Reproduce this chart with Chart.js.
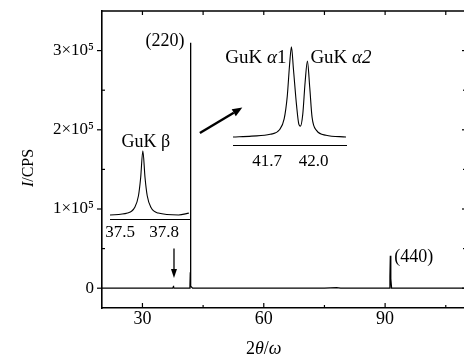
<!DOCTYPE html>
<html>
<head>
<meta charset="utf-8">
<script src="https://cdn.jsdelivr.net/npm/chart.js@4.4.0/dist/chart.umd.min.js"></script>
<style>
  html, body { margin: 0; padding: 0; background: #fff; overflow: hidden; }
  #wrap { position: relative; width: 470px; height: 361px; }
  #wrap canvas { position: absolute; }
  #main { left: 0; top: 0; }
  #betaInset { left: 100px; top: 120px; }
  #alphaInset { left: 223px; top: 30px; }
</style>
</head>
<body>
<div id="wrap">
  <canvas id="main" width="470" height="361"></canvas>
  <canvas id="betaInset" width="100" height="140"></canvas>
  <canvas id="alphaInset" width="163" height="145"></canvas>
</div>
<script>
// main scan, 2theta (deg) vs counts
const twoTheta = [20, 30, 37.5, 37.6, 37.66, 37.72, 37.85, 41.6, 41.75, 41.84, 41.86, 41.9, 42.0, 42.4, 60, 75, 78, 79, 80, 91.0, 91.2, 91.3, 91.4, 91.6, 110];
const intensity = [0, 0, 0, 1200, 3000, 1200, 0, 0, 2500, 20000, 310000, 20000, 2500, 0, 0, 0, 800, 0, 0, 0, 15000, 41000, 12000, 0, 0];
const xTicks = [30, 60, 90];
const xMinor = [45, 75, 105];
const yTicks = [0, 100000, 200000, 300000];
const yMinor = [50000, 150000, 250000];

// inset: CuK beta (relative height)
const betaTheta = [37.43, 37.55, 37.6, 37.625, 37.64, 37.655, 37.67, 37.685, 37.71, 37.76, 37.9, 37.97];
const betaRel = [0, 0.03, 0.12, 0.3, 0.58, 1.0, 0.58, 0.3, 0.12, 0.03, 0.0, 0.03];
const betaTicks = [37.5, 37.8];

// inset: CuK alpha1 / alpha2 (relative height)
const alphaTheta = [41.48, 41.6, 41.72, 41.78, 41.81, 41.83, 41.845, 41.857, 41.87, 41.89, 41.905, 41.915, 41.93, 41.945, 41.96, 41.975, 41.99, 42.02, 42.08, 42.21];
const alphaRel = [0, 0.01, 0.03, 0.08, 0.2, 0.45, 0.8, 1.0, 0.75, 0.35, 0.14, 0.12, 0.25, 0.6, 0.84, 0.55, 0.22, 0.07, 0.02, 0.0];
const alphaTicks = [41.7, 42.0];

const SERIF = '"Liberation Serif", "Times New Roman", serif';
Chart.defaults.font.family = SERIF;
Chart.defaults.color = '#000';

function toPoints(xs, ys) {
    return xs.map((v, i) => ({ x: v, y: ys[i] }));
}

// draws text pieces side by side, some of them italic
function richText(ctx, parts, x, y, size, align) {
    let total = 0;
    parts.forEach(p => {
        ctx.font = (p.it ? 'italic ' : '') + size + 'px ' + SERIF;
        p.w = ctx.measureText(p.t).width;
        total += p.w;
    });
    let cx = align === 'center' ? x - total / 2 : (align === 'right' ? x - total : x);
    ctx.textAlign = 'left';
    parts.forEach(p => {
        ctx.font = (p.it ? 'italic ' : '') + size + 'px ' + SERIF;
        ctx.fillText(p.t, cx, y);
        cx += p.w;
    });
}

function arrow(ctx, x1, y1, x2, y2, head, half, lw) {
    const ang = Math.atan2(y2 - y1, x2 - x1);
    const bx = x2 - head * Math.cos(ang), by = y2 - head * Math.sin(ang);
    ctx.lineWidth = lw;
    ctx.beginPath(); ctx.moveTo(x1, y1); ctx.lineTo(bx, by); ctx.stroke();
    ctx.beginPath();
    ctx.moveTo(x2, y2);
    ctx.lineTo(bx + half * Math.sin(ang), by - half * Math.cos(ang));
    ctx.lineTo(bx - half * Math.sin(ang), by + half * Math.cos(ang));
    ctx.closePath(); ctx.fill();
}

const mainDecor = {
    id: 'mainDecor',
    afterDraw(chart) {
        const { ctx, chartArea: a, scales: { x, y } } = chart;
        ctx.save();
        ctx.strokeStyle = '#000';
        ctx.fillStyle = '#000';
        // top + right frame
        ctx.lineWidth = 1.6;
        ctx.beginPath();
        ctx.moveTo(a.left, a.top); ctx.lineTo(a.right, a.top); ctx.lineTo(a.right, a.bottom);
        ctx.stroke();

        // tick marks
        ctx.lineWidth = 1.2;
        const seg = (x1, y1, x2, y2) => { ctx.beginPath(); ctx.moveTo(x1, y1); ctx.lineTo(x2, y2); ctx.stroke(); };
        xTicks.forEach(v => { const p = x.getPixelForValue(v); seg(p, a.bottom, p, a.bottom - 5); seg(p, a.top, p, a.top + 4); });
        xMinor.forEach(v => { const p = x.getPixelForValue(v); seg(p, a.bottom, p, a.bottom - 3); seg(p, a.top, p, a.top + 4); });
        yTicks.forEach(v => { const p = y.getPixelForValue(v); seg(a.left - 5, p, a.left, p); seg(a.right, p, a.right - 4, p); });
        yMinor.forEach(v => { const p = y.getPixelForValue(v); seg(a.left, p, a.left + 3, p); seg(a.right, p, a.right - 3, p); });

        // peak labels
        ctx.textBaseline = 'middle';
        ctx.font = '18px ' + SERIF;
        ctx.textAlign = 'right';
        ctx.fillText('(220)', x.getPixelForValue(41.86) - 6, y.getPixelForValue(310000) - 1);
        ctx.textAlign = 'left';
        ctx.fillText('(440)', x.getPixelForValue(91.3) + 4, y.getPixelForValue(41000) + 2);

        // arrows
        arrow(ctx, x.getPixelForValue(37.8), y.getPixelForValue(50000), x.getPixelForValue(37.8), y.getPixelForValue(13000), 9, 3, 1.3);
        arrow(ctx, x.getPixelForValue(44.2), y.getPixelForValue(196000), x.getPixelForValue(54.7), y.getPixelForValue(228000), 10, 4, 2.4);

        // axis titles
        richText(ctx, [{ t: '2' }, { t: 'θ', it: true }, { t: '/' }, { t: 'ω', it: true }], x.getPixelForValue(60), 349, 18, 'center');
        ctx.translate(a.left - 73, a.top + 157);
        ctx.rotate(-Math.PI / 2);
        richText(ctx, [{ t: 'I', it: true }, { t: '/CPS' }], 0, 0, 16, 'center');
        ctx.restore();
    }
};

new Chart(document.getElementById('main'), {
    type: 'line',
    data: {
        datasets: [{
            data: toPoints(twoTheta, intensity),
            borderColor: '#000',
            borderWidth: 1.3,
            pointRadius: 0,
            tension: 0
        }]
    },
    options: {
        responsive: false,
        animation: false,
        devicePixelRatio: 1,
        layout: { padding: { top: 11, right: 4, left: 0, bottom: 0 } },
        plugins: { legend: { display: false }, tooltip: { enabled: false } },
        scales: {
            x: {
                type: 'linear', min: 20, max: 110,
                afterBuildTicks: s => { s.ticks = xTicks.map(v => ({ value: v })); },
                afterFit: s => { s.height = 53; s.paddingLeft = 0; s.paddingRight = 0; },
                grid: { display: false },
                border: { color: '#000', width: 1.6 },
                ticks: { font: { size: 18 }, color: '#000', padding: -8, maxRotation: 0 }
            },
            y: {
                min: -25000, max: 350000,
                afterBuildTicks: s => { s.ticks = yTicks.map(v => ({ value: v })); },
                afterFit: s => { s.width = 102; s.paddingTop = 0; s.paddingBottom = 0; },
                grid: { display: false },
                border: { color: '#000', width: 1.6 },
                ticks: {
                    font: { size: 17 }, color: '#000', padding: 0,
                    callback: v => v === 0 ? '0' : (v / 100000) + '×10⁵'
                }
            }
        }
    },
    plugins: [mainDecor]
});

function insetOptions(xmin, xmax, ymin, ymax, ticks, pad, axisH, tickPad) {
    return {
        responsive: false,
        animation: false,
        devicePixelRatio: 1,
        layout: { padding: pad },
        plugins: { legend: { display: false }, tooltip: { enabled: false } },
        scales: {
            x: {
                type: 'linear', min: xmin, max: xmax,
                afterBuildTicks: s => { s.ticks = ticks.map(v => ({ value: v })); },
                afterFit: s => { s.height = axisH; },
                grid: { display: false },
                border: { color: '#000', width: 1 },
                ticks: { font: { size: 17 }, color: '#000', padding: tickPad, maxRotation: 0, callback: v => v.toFixed(1) }
            },
            y: { display: false, min: ymin, max: ymax }
        }
    };
}

new Chart(document.getElementById('betaInset'), {
    type: 'line',
    data: { datasets: [{ data: toPoints(betaTheta, betaRel), borderColor: '#000', borderWidth: 1.1, pointRadius: 0, cubicInterpolationMode: 'monotone' }] },
    options: insetOptions(37.43, 37.978, -0.062, 1.089, betaTicks, { left: 10, right: 10, top: 25, bottom: 0 }, 41, -5),
    plugins: [{
        id: 'betaLabel',
        afterDraw(chart) {
            const { ctx, scales: { x, y } } = chart;
            ctx.save();
            ctx.fillStyle = '#000';
            ctx.textBaseline = 'middle';
            ctx.textAlign = 'center';
            ctx.font = '18px ' + SERIF;
            ctx.fillText('GuK β', x.getPixelForValue(37.655) + 3, y.getPixelForValue(1.0) - 8);
            ctx.restore();
        }
    }]
});

new Chart(document.getElementById('alphaInset'), {
    type: 'line',
    data: { datasets: [{ data: toPoints(alphaTheta, alphaRel), borderColor: '#000', borderWidth: 1.1, pointRadius: 0, cubicInterpolationMode: 'monotone' }] },
    options: insetOptions(41.48, 42.209, -0.0886, 1.074, alphaTicks, { left: 10, right: 40, top: 10, bottom: 0 }, 30, -2),
    plugins: [{
        id: 'alphaLabels',
        afterDraw(chart) {
            const { ctx, scales: { x, y } } = chart;
            ctx.save();
            ctx.fillStyle = '#000';
            ctx.textBaseline = 'middle';
            const ty = y.getPixelForValue(1.0) + 11;
            richText(ctx, [{ t: 'GuK ' }, { t: 'α', it: true }, { t: '1' }], x.getPixelForValue(41.857) - 5, ty, 19, 'right');
            richText(ctx, [{ t: 'GuK ' }, { t: 'α2', it: true }], x.getPixelForValue(41.96) + 3, ty, 19, 'left');
            ctx.restore();
        }
    }]
});
</script>
</body>
</html>
